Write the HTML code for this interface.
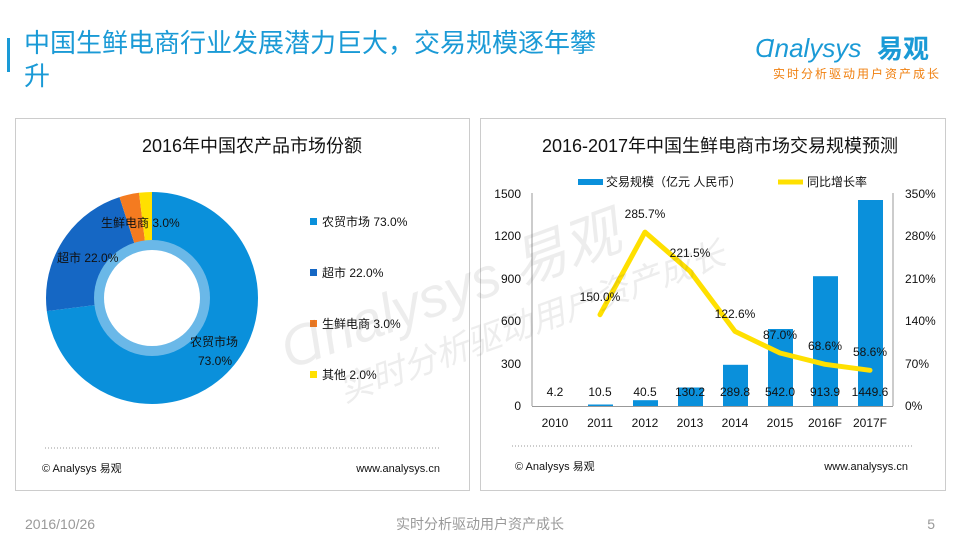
<!DOCTYPE html>
<html><head><meta charset="utf-8"><style>
body{margin:0;width:960px;height:540px;background:#fff;overflow:hidden;font-family:"Liberation Sans","Noto Sans CJK SC",sans-serif;}
</style></head><body>
<svg width="960" height="540" xmlns="http://www.w3.org/2000/svg" font-family="Liberation Sans, Noto Sans CJK SC, sans-serif">
<rect x="7" y="38" width="3" height="34" fill="#1a9ad6"/>
<text x="24" y="52" font-size="26" fill="#1a9ad6">中国生鲜电商行业发展潜力巨大，交易规模逐年攀</text>
<text x="24" y="85" font-size="26" fill="#1a9ad6">升</text>
<text x="755" y="57" font-size="26" fill="#1a9ad6" font-style="italic">Ɑnalysys</text>
<text x="877" y="58" font-size="26" font-weight="bold" fill="#1a9ad6">易观</text>
<text x="773" y="78" font-size="12" fill="#f08010" letter-spacing="2">实时分析驱动用户资产成长</text>
<rect x="15.5" y="118.5" width="454" height="372" fill="#fff" stroke="#ccc"/>
<rect x="480.5" y="118.5" width="465" height="372" fill="#fff" stroke="#ccc"/>
<text x="252" y="152" font-size="18" text-anchor="middle" fill="#111">2016年中国农产品市场份额</text>
<text x="720" y="152" font-size="18" text-anchor="middle" fill="#111">2016-2017年中国生鲜电商市场交易规模预测</text>
<g transform="translate(152,298)">
<circle r="80" fill="none" stroke="#0a90db" stroke-width="52" stroke-dasharray="366.9 135.8" transform="rotate(-90)"/>
<circle r="80" fill="none" stroke="#1567c4" stroke-width="52" stroke-dasharray="0 366.9 110.6 502.7" transform="rotate(-90)"/>
<circle r="80" fill="none" stroke="#f47b20" stroke-width="52" stroke-dasharray="0 477.5 15.1 502.7" transform="rotate(-90)"/>
<circle r="80" fill="none" stroke="#ffe000" stroke-width="52" stroke-dasharray="0 492.6 10.1 502.7" transform="rotate(-90)"/>
<circle r="58" fill="#6ab8e8"/>
<circle r="48" fill="#fff"/>
</g>
<g font-size="12" fill="#111">
<text x="101" y="227">生鲜电商 3.0%</text>
<text x="57" y="262">超市 22.0%</text>
<text x="190" y="346">农贸市场</text>
<text x="198" y="365">73.0%</text>
<rect x="310" y="218" width="7" height="7" fill="#0a90db"/><text x="322" y="226">农贸市场  73.0%</text>
<rect x="310" y="269" width="7" height="7" fill="#1567c4"/><text x="322" y="277">超市  22.0%</text>
<rect x="310" y="320" width="7" height="7" fill="#f47b20"/><text x="322" y="328">生鲜电商  3.0%</text>
<rect x="310" y="371" width="7" height="7" fill="#ffe000"/><text x="322" y="379">其他  2.0%</text>
</g>
<line x1="45" y1="448" x2="440" y2="448" stroke="#999" stroke-dasharray="1 2"/>
<line x1="512" y1="446" x2="912" y2="446" stroke="#999" stroke-dasharray="1 2"/>
<text x="42" y="472" font-size="11" fill="#111">© Analysys 易观</text>
<text x="440" y="472" font-size="11" fill="#111" text-anchor="end">www.analysys.cn</text>
<text x="515" y="470" font-size="11" fill="#111">© Analysys 易观</text>
<text x="908" y="470" font-size="11" fill="#111" text-anchor="end">www.analysys.cn</text>
<g font-size="12" fill="#111">
<rect x="578" y="179" width="25" height="6" fill="#0a90db"/><text x="606" y="186">交易规模（亿元 人民币）</text>
<line x1="778" y1="182" x2="803" y2="182" stroke="#ffe000" stroke-width="5"/><text x="807" y="186">同比增长率</text>
<g text-anchor="end">
<text x="521" y="198">1500</text><text x="521" y="240">1200</text><text x="521" y="283">900</text><text x="521" y="325">600</text><text x="521" y="368">300</text><text x="521" y="410">0</text>
</g>
<g>
<text x="905" y="198">350%</text><text x="905" y="240">280%</text><text x="905" y="283">210%</text><text x="905" y="325">140%</text><text x="905" y="368">70%</text><text x="905" y="410">0%</text>
</g>
<line x1="532" y1="193" x2="532" y2="406" stroke="#999"/>
<line x1="893" y1="193" x2="893" y2="406" stroke="#999"/>
<line x1="532" y1="406.5" x2="893" y2="406.5" stroke="#999"/>
<g fill="#0a90db">
<rect x="588" y="404.5" width="25" height="1.5"/>
<rect x="633" y="400.2" width="25" height="5.8"/>
<rect x="678" y="387.5" width="25" height="18.5"/>
<rect x="723" y="364.8" width="25" height="41.2"/>
<rect x="768" y="329" width="25" height="77"/>
<rect x="813" y="276.2" width="25" height="129.8"/>
<rect x="858" y="200" width="25" height="206"/>
</g>
<polyline points="600,314.7 645,232.1 690,271.2 735,331.4 780,353 825,364.3 870,370.3" fill="none" stroke="#ffe000" stroke-width="5" stroke-linejoin="round" stroke-linecap="round"/>
<g text-anchor="middle">
<text x="555" y="396">4.2</text><text x="600" y="396">10.5</text><text x="645" y="396">40.5</text><text x="690" y="396">130.2</text><text x="735" y="396">289.8</text><text x="780" y="396">542.0</text><text x="825" y="396">913.9</text><text x="870" y="396">1449.6</text>
<text x="600" y="301">150.0%</text><text x="645" y="218">285.7%</text><text x="690" y="257">221.5%</text><text x="735" y="318">122.6%</text><text x="780" y="339">87.0%</text><text x="825" y="350">68.6%</text><text x="870" y="356">58.6%</text>
<text x="555" y="427">2010</text><text x="600" y="427">2011</text><text x="645" y="427">2012</text><text x="690" y="427">2013</text><text x="735" y="427">2014</text><text x="780" y="427">2015</text><text x="825" y="427">2016F</text><text x="870" y="427">2017F</text>
</g>
</g>
<g opacity="0.1" fill="#555" transform="rotate(-20 420 290)">
<text x="270" y="320" font-size="56" font-style="italic">Ɑnalysys 易观</text>
<text x="310" y="370" font-size="34" font-style="italic">实时分析驱动用户资产成长</text>
</g>
<text x="25" y="529" font-size="14" fill="#999">2016/10/26</text>
<text x="480" y="529" font-size="14" fill="#999" text-anchor="middle">实时分析驱动用户资产成长</text>
<text x="935" y="529" font-size="14" fill="#999" text-anchor="end">5</text>
</svg>
</body></html>
